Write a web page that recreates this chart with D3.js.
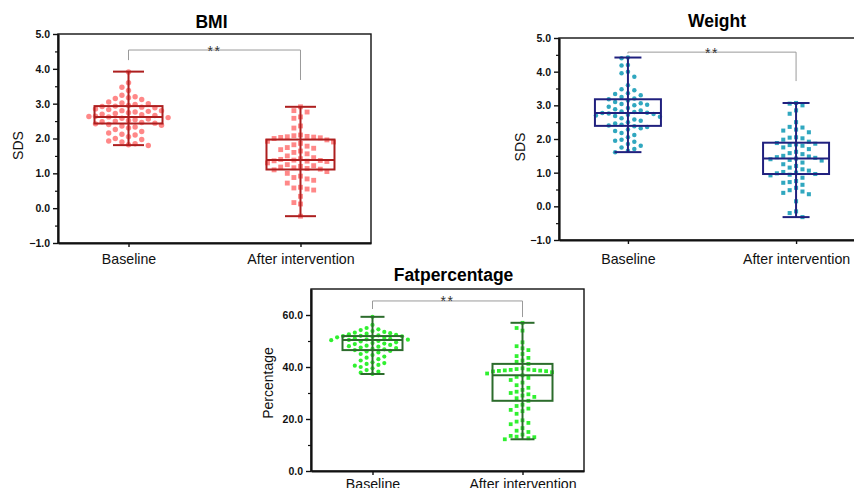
<!DOCTYPE html>
<html>
<head>
<meta charset="utf-8">
<script src="https://cdn.jsdelivr.net/npm/d3@7"></script>
<style>
  body { margin: 0; background: #fff; }
  svg { display: block; font-family: "Liberation Sans", Arial, sans-serif; }
</style>
</head>
<body>
<div id="chart"></div>
<script>
// ---- data ----
const categories = ["Baseline", "After intervention"];

const sdsTicks = [-1, 0, 1, 2, 3, 4, 5];
const sdsMinorTicks = [-0.5, 0.5, 1.5, 2.5, 3.5, 4.5];
const fatTicks = [0, 20, 40, 60];
const fatMinorTicks = [10, 30, 50];

const bmiBaseline = [3.91, 3.60, 3.47, 3.38, 3.24, 3.20, 3.17, 3.15, 3.12, 3.05, 3.02, 3.00, 2.98, 2.95, 2.93,
    2.92, 2.90, 2.88, 2.85, 2.83, 2.80, 2.80, 2.78, 2.76, 2.74, 2.72, 2.70, 2.68, 2.66, 2.64, 2.63, 2.62, 2.60,
    2.58, 2.56, 2.54, 2.52, 2.50, 2.48, 2.46, 2.44, 2.42, 2.40, 2.38, 2.36, 2.33, 2.30, 2.26, 2.20, 2.16, 2.12,
    2.10, 2.05, 2.00, 1.97, 1.93, 1.90, 1.85, 1.82, 1.80];
const bmiAfter = [2.91, 2.80, 2.76, 2.62, 2.58, 2.36, 2.30, 2.10, 2.08, 2.06, 2.05, 2.04, 2.03, 2.02, 2.00,
    1.96, 1.92, 1.90, 1.86, 1.82, 1.78, 1.74, 1.72, 1.68, 1.64, 1.60, 1.56, 1.50, 1.45, 1.42, 1.40, 1.38, 1.37,
    1.36, 1.35, 1.34, 1.30, 1.25, 1.22, 1.20, 1.18, 1.16, 1.14, 1.12, 1.10, 1.05, 1.00, 0.92, 0.88, 0.84, 0.80,
    0.72, 0.60, 0.58, 0.55, 0.52, 0.34, 0.16, 0.12, -0.23];
const weightBaseline = [4.42, 4.40, 4.20, 4.18, 4.00, 3.95, 3.85, 3.60, 3.48, 3.45, 3.36, 3.34, 3.30, 3.25,
    3.20, 3.18, 3.14, 3.10, 3.06, 3.04, 3.02, 3.00, 2.96, 2.92, 2.88, 2.85, 2.82, 2.80, 2.78, 2.77, 2.76, 2.74,
    2.72, 2.70, 2.68, 2.66, 2.62, 2.58, 2.54, 2.50, 2.46, 2.42, 2.40, 2.38, 2.36, 2.32, 2.28, 2.24, 2.18, 2.12,
    2.05, 1.98, 1.95, 1.92, 1.85, 1.80, 1.75, 1.70, 1.65, 1.61];
const weightAfter = [3.07, 3.05, 3.00, 2.85, 2.75, 2.50, 2.36, 2.34, 2.28, 2.25, 2.20, 2.05, 2.04, 2.02, 1.98,
    1.92, 1.88, 1.86, 1.84, 1.82, 1.80, 1.75, 1.70, 1.62, 1.58, 1.55, 1.50, 1.48, 1.46, 1.44, 1.42, 1.40, 1.38,
    1.36, 1.30, 1.25, 1.20, 1.15, 1.10, 1.06, 1.02, 1.00, 0.98, 0.96, 0.94, 0.92, 0.85, 0.75, 0.72, 0.70, 0.64,
    0.55, 0.48, 0.44, 0.40, 0.36, 0.15, -0.15, -0.20, -0.32];
const fatBaseline = [59.3, 56.2, 55.0, 54.5, 54.2, 53.8, 53.5, 53.2, 53.0, 52.8, 52.6, 52.4, 52.2, 52.0, 51.9,
    51.8, 51.6, 51.4, 51.2, 51.0, 50.8, 50.6, 50.5, 50.4, 50.3, 50.0, 49.8, 49.5, 49.2, 49.0, 48.8, 48.5, 48.2,
    48.0, 47.8, 47.5, 47.3, 47.0, 46.8, 46.5, 46.2, 46.0, 45.6, 45.0, 44.6, 44.0, 43.6, 43.0, 42.5, 41.8, 41.5,
    41.2, 40.8, 40.5, 40.0, 39.5, 38.8, 38.2, 37.8, 37.3];
const fatAfter = [57.0, 55.0, 54.0, 49.5, 48.0, 47.2, 46.5, 45.0, 44.2, 43.5, 42.5, 42.0, 41.2, 39.5, 39.2,
    39.0, 38.9, 38.8, 38.7, 38.6, 38.5, 38.4, 38.3, 38.0, 37.5, 36.8, 36.2, 35.8, 35.0, 34.0, 33.0, 32.0, 31.2,
    30.5, 30.0, 29.5, 29.0, 28.5, 28.0, 27.0, 25.5, 25.0, 24.0, 23.5, 23.0, 22.0, 19.5, 19.0, 18.5, 18.0, 16.5,
    15.5, 15.0, 14.0, 13.5, 13.2, 13.0, 12.6, 12.2];

// [min, q1, median, q3, max] per category
const bmiBox = [[1.81, 2.43, 2.62, 2.93, 3.92], [-0.23, 1.11, 1.38, 1.97, 2.91]];
const weightBox = [[1.61, 2.39, 2.77, 3.18, 4.42], [-0.32, 0.96, 1.42, 1.89, 3.07]];
const fatBox = [[37.3, 46.5, 50.4, 51.9, 59.3], [12.2, 27.0, 36.8, 41.2, 57.0]];

// significance bracket: [line level, left leg end, right leg end]
const bmiBracket = [4.54, 4.25, 3.68];
const weightBracket = [4.58, 4.54, 3.72];
const fatBracket = [65.4, 62.3, 59.2];

// ---- drawing ----
const svg = d3.select("#chart").append("svg")
              .attr("width", 854)
              .attr("height", 488);

// simple beeswarm: place each point at the nearest free horizontal slot
const swarm = (values, y, gap, step) => {
    const placed = [];
    values.slice().sort((a, b) => b - a).forEach(v => {
        const py = y(v);
        let dx = 0;
        for (let i = 0; i < 40; i++) {
            dx = i === 0 ? 0 : (i % 2 ? -1 : 1) * Math.ceil(i / 2) * step;
            if (!placed.some(p => Math.abs(p.dx - dx) < step * 0.99 && Math.abs(p.y - py) < gap)) break;
        }
        placed.push({v: v, y: py, dx: dx});
    });
    return placed;
};

const drawPanel = cfg => {
    const g = svg.append("g")
                 .attr("transform", `translate(${cfg.left}, ${cfg.top})`);
    const x = d3.scalePoint()
                .domain(categories)
                .range([0, cfg.width])
                .padding(0.41);
    const y = d3.scaleLinear()
                .domain(cfg.domain)
                .range([cfg.height, 0]);

    // frame
    g.append("rect")
     .attr("width", cfg.width)
     .attr("height", cfg.height)
     .attr("fill", "none")
     .attr("stroke", "#111")
     .attr("stroke-width", 1.4);

    // y axis
    const yAxis = g.append("g")
                   .call(d3.axisLeft(y)
                           .tickValues(cfg.ticks)
                           .tickFormat(d3.format(".1f"))
                           .tickSize(5)
                           .tickPadding(3)
                           .tickSizeOuter(0));
    yAxis.select(".domain").attr("stroke", "#111").attr("stroke-width", 2.2);
    yAxis.selectAll(".tick line").attr("stroke", "#111").attr("stroke-width", 1.4);
    yAxis.selectAll(".tick text")
         .attr("fill", "#111")
         .style("font-size", "10.5px")
         .style("font-weight", "bold");
    const yMinor = g.append("g")
                    .call(d3.axisLeft(y)
                            .tickValues(cfg.minorTicks)
                            .tickFormat("")
                            .tickSize(3)
                            .tickSizeOuter(0));
    yMinor.select(".domain").remove();
    yMinor.selectAll(".tick line").attr("stroke", "#111").attr("stroke-width", 1.2);

    // x axis
    const xAxis = g.append("g")
                   .attr("transform", `translate(0, ${cfg.height})`)
                   .call(d3.axisBottom(x)
                           .tickSize(4)
                           .tickPadding(cfg.xPad)
                           .tickSizeOuter(0));
    xAxis.select(".domain").attr("stroke", "#111").attr("stroke-width", 2.2);
    xAxis.selectAll(".tick line").attr("stroke", "#111").attr("stroke-width", 1.4);
    xAxis.selectAll(".tick text")
         .attr("fill", "#111")
         .style("font-size", "14.2px");

    // titles
    g.append("text")
     .attr("x", cfg.width / 2 + cfg.titleDx)
     .attr("y", cfg.titleY)
     .attr("text-anchor", "middle")
     .style("font-size", "17.5px")
     .style("font-weight", "bold")
     .attr("fill", "#000")
     .text(cfg.title);
    g.append("text")
     .attr("transform", `translate(${cfg.ylabelX}, ${cfg.height / 2 + cfg.ylabelDy}) rotate(-90)`)
     .attr("text-anchor", "middle")
     .attr("dy", "0.35em")
     .style("font-size", "14px")
     .attr("fill", "#111")
     .text(cfg.ylabel);

    // points
    cfg.series.forEach((values, i) => {
        const cx = x(categories[i]);
        const pts = swarm(values, y, cfg.gap, cfg.step);
        const shape = i === 0 ? "circle" : "rect";
        const sel = g.append("g").selectAll(shape).data(pts).enter().append(shape)
                     .attr("fill", cfg.pointColor)
                     .attr("fill-opacity", 0.9);
        if (shape === "circle") {
            sel.attr("cx", d => cx + d.dx)
               .attr("cy", d => d.y)
               .attr("r", cfg.size / 2);
        } else {
            sel.attr("x", d => cx + d.dx - cfg.size * 0.45)
               .attr("y", d => d.y - cfg.size * 0.45)
               .attr("width", cfg.size * 0.9)
               .attr("height", cfg.size * 0.9);
        }
    });

    // boxes
    cfg.boxes.forEach((b, i) => {
        const cx = x(categories[i]);
        const bg = g.append("g")
                    .attr("stroke", cfg.boxColor)
                    .attr("stroke-width", 2)
                    .attr("fill", "none");
        bg.append("line")
          .attr("x1", cx).attr("x2", cx)
          .attr("y1", y(b[0])).attr("y2", y(b[4]));
        [b[0], b[4]].forEach(v => bg.append("line")
                                    .attr("x1", cx - cfg.capW / 2).attr("x2", cx + cfg.capW / 2)
                                    .attr("y1", y(v)).attr("y2", y(v)));
        bg.append("rect")
          .attr("x", cx - cfg.boxW / 2)
          .attr("y", y(b[3]))
          .attr("width", cfg.boxW)
          .attr("height", y(b[1]) - y(b[3]));
        bg.append("line")
          .attr("x1", cx - cfg.boxW / 2).attr("x2", cx + cfg.boxW / 2)
          .attr("y1", y(b[2])).attr("y2", y(b[2]));
    });

    // significance bracket
    const x0 = x(categories[0]);
    const x1 = x(categories[1]);
    const br = cfg.bracket;
    g.append("path")
     .attr("d", `M${x0},${y(br[1])}V${y(br[0])}H${x1}V${y(br[2])}`)
     .attr("fill", "none")
     .attr("stroke", "#9a9a9a")
     .attr("stroke-width", 1);
    g.append("text")
     .attr("x", (x0 + x1) / 2)
     .attr("y", y(br[0]) + 5.5)
     .attr("text-anchor", "middle")
     .style("font-size", "14px")
     .style("letter-spacing", "1.5px")
     .attr("fill", "#333")
     .text("**");
};

drawPanel({
    title: "BMI", ylabel: "SDS",
    left: 58, top: 34, width: 313, height: 209,
    domain: [-1, 5], ticks: sdsTicks, minorTicks: sdsMinorTicks,
    series: [bmiBaseline, bmiAfter], boxes: bmiBox, bracket: bmiBracket,
    pointColor: "#ff7b7b", boxColor: "#ad1f1f",
    size: 5.4, gap: 7, step: 6.6, boxW: 68, capW: 31,
    titleY: -6, titleDx: -3, ylabelX: -40, ylabelDy: 7, xPad: 7
});

drawPanel({
    title: "Weight", ylabel: "SDS",
    left: 559, top: 38, width: 306, height: 202,
    domain: [-1, 5], ticks: sdsTicks, minorTicks: sdsMinorTicks,
    series: [weightBaseline, weightAfter], boxes: weightBox, bracket: weightBracket,
    pointColor: "#1a9db8", boxColor: "#20207e",
    size: 4.5, gap: 6.5, step: 6.4, boxW: 66, capW: 27,
    titleY: -11, titleDx: 5, ylabelX: -39, ylabelDy: 8, xPad: 10
});

drawPanel({
    title: "Fatpercentage", ylabel: "Percentage",
    left: 311, top: 289, width: 273, height: 182,
    domain: [0, 70], ticks: fatTicks, minorTicks: fatMinorTicks,
    series: [fatBaseline, fatAfter], boxes: fatBox, bracket: fatBracket,
    pointColor: "#19ee19", boxColor: "#2c6c2c",
    size: 4.2, gap: 5.5, step: 5.9, boxW: 60, capW: 24,
    titleY: -8, titleDx: 6, ylabelX: -43, ylabelDy: 3, xPad: 4
});
</script>
</body>
</html>
